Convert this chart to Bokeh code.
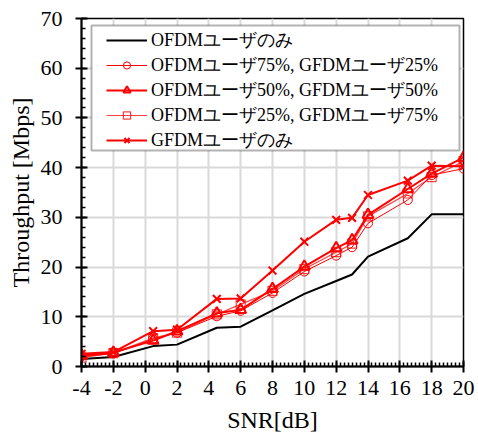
from bokeh.plotting import figure
from bokeh.models import Legend, LegendItem, FixedTicker, Range1d, Label, BoxAnnotation
from bokeh.embed import file_html
from bokeh.resources import INLINE

snr = [-4, -2, 0.5, 2, 4.5, 6, 8, 10, 12, 13, 14, 16.5, 18, 20]
ofdm_only = [1.5, 1.9, 4.1, 4.4, 7.8, 8.0, 11.3, 14.6, 17.2, 18.5, 22.1, 25.8, 30.6, 30.6]
ofdm75 = [2.0, 2.6, 5.5, 6.8, 10.1, 11.2, 14.8, 19.1, 22.3, 24.0, 28.8, 33.5, 38.5, 39.8]
ofdm50 = [2.2, 2.8, 5.2, 7.1, 10.7, 11.4, 15.6, 20.1, 23.8, 25.4, 30.5, 35.7, 38.8, 42.0]
ofdm25 = [1.8, 2.7, 5.7, 6.8, 10.5, 12.5, 15.2, 19.6, 23.0, 24.7, 30.2, 34.8, 38.1, 41.3]
gfdm_only = [2.55, 2.9, 7.1, 7.4, 13.6, 13.7, 19.3, 25.1, 29.5, 29.9, 34.5, 37.4, 40.4, 40.3]

x_ticks = list(range(-4, 21, 2))
y_ticks = list(range(0, 71, 10))

labels = ["OFDMユーザのみ",
          "OFDMユーザ75%, GFDMユーザ25%",
          "OFDMユーザ50%, GFDMユーザ50%",
          "OFDMユーザ25%, GFDMユーザ75%",
          "GFDMユーザのみ"]

FONT = "serif"
RED = "#ff0000"

p = figure(width=478, height=436, output_backend="svg", toolbar_location=None,
           x_range=Range1d(-4, 20), y_range=Range1d(0, 70),
           min_border_left=81, min_border_right=15, min_border_top=18, min_border_bottom=70)
p.background_fill_color = "white"
p.border_fill_color = "white"
p.outline_line_color = "black"
p.outline_line_width = 1.5

p.xaxis.ticker = FixedTicker(ticks=x_ticks,
                             minor_ticks=[-4 + 0.25 * i for i in range(97)])
p.yaxis.ticker = FixedTicker(ticks=y_ticks,
                             minor_ticks=list(range(0, 71, 2)))
p.xaxis.major_label_overrides = {t: str(t) for t in x_ticks}
for ax in (p.xaxis, p.yaxis):
    ax.axis_line_color = "black"
    ax.axis_line_width = 2
    ax.major_tick_line_color = "black"
    ax.major_tick_line_width = 2
    ax.major_tick_in = 6
    ax.major_tick_out = 6
    ax.minor_tick_line_color = "black"
    ax.minor_tick_line_width = 1.5
    ax.minor_tick_in = 4
    ax.minor_tick_out = 0
    ax.major_label_text_font = FONT
    ax.major_label_text_font_size = "22px"
    ax.major_label_text_color = "black"
    ax.axis_label_text_font = FONT
    ax.axis_label_text_font_size = "24px"
    ax.axis_label_text_font_style = "normal"
    ax.axis_label_text_color = "black"
p.xaxis.major_label_standoff = 8
p.yaxis.major_label_standoff = 13
p.xaxis.axis_label = "SNR[dB]"
p.yaxis.axis_label = "Throughput [Mbps]"
p.xaxis.axis_label_standoff = 9
p.yaxis.axis_label_standoff = 4

p.grid.grid_line_color = "#d9d9d9"
p.grid.grid_line_width = 2
p.grid.minor_grid_line_color = None

r0 = p.line(snr, ofdm_only, line_color="black", line_width=2)

l1 = p.line(snr, ofdm75, line_color=RED, line_width=1)
m1 = p.scatter(snr, ofdm75, marker="circle", size=9, line_color=RED,
               fill_alpha=0, line_width=1)

l2 = p.line(snr, ofdm50, line_color=RED, line_width=2)
m2 = p.scatter(snr, ofdm50, marker="triangle", size=11, line_color=RED, fill_alpha=0,
               line_width=2)

l3 = p.line(snr, ofdm25, line_color=RED, line_width=1.2, line_alpha=0.75)
m3 = p.scatter(snr, ofdm25, marker="square", size=9, line_color=RED, fill_alpha=0,
               line_width=1.2, line_alpha=0.75)

l4 = p.line(snr, gfdm_only, line_color=RED, line_width=2)
m4 = p.scatter(snr, gfdm_only, marker="x", size=11, line_color=RED, line_width=2)

# legend frame (screen units relative to the plot frame, y measured upward)
frame_box = BoxAnnotation(left=10, right=378, bottom=216, top=341,
                          left_units="screen", right_units="screen",
                          bottom_units="screen", top_units="screen",
                          fill_color="white", fill_alpha=1,
                          line_color="black", line_width=2)
p.add_layout(frame_box)

legend = Legend(items=[
    LegendItem(label=labels[0], renderers=[r0]),
    LegendItem(label=labels[1], renderers=[l1, m1]),
    LegendItem(label=labels[2], renderers=[l2, m2]),
    LegendItem(label=labels[3], renderers=[l3, m3]),
    LegendItem(label=labels[4], renderers=[l4, m4]),
], location=(25, 214))
legend.label_text_font = FONT
legend.label_text_font_size = "18px"
legend.label_text_color = "black"
legend.label_height = 18
legend.glyph_height = 18
legend.glyph_width = 41
legend.label_standoff = 4
legend.spacing = 1
legend.padding = 0
legend.margin = 0
legend.border_line_color = None
legend.background_fill_alpha = 0
p.add_layout(legend)

caption = Label(x=321, y=-66, x_units="screen", y_units="screen", text="(a)OFDM",
                text_font="sans-serif", text_font_size="18px", text_baseline="top",
                text_color="black")
p.add_layout(caption)

open("out.html", "w").write(file_html(p, INLINE))
